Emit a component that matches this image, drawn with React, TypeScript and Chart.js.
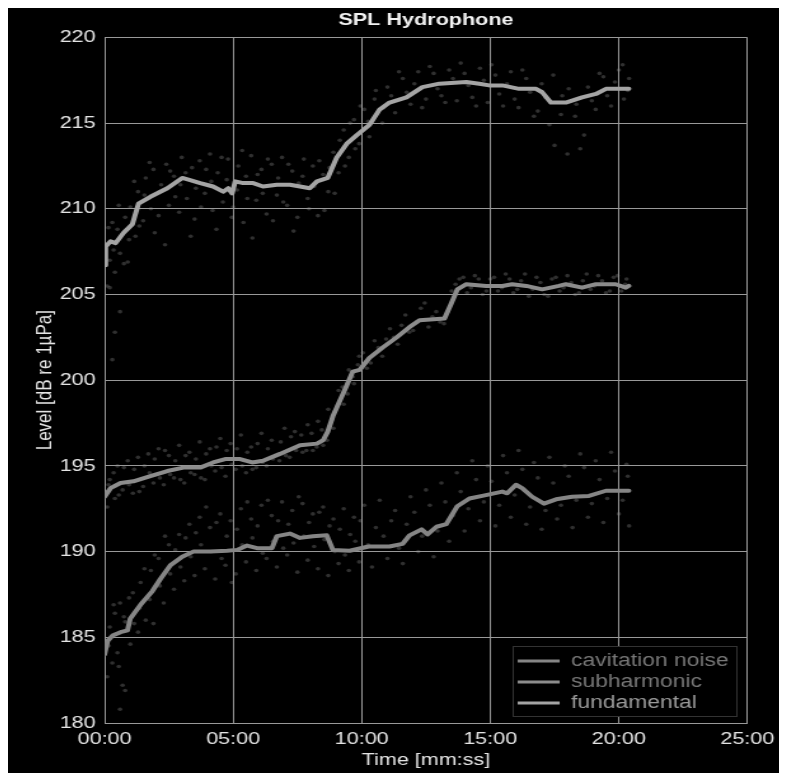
import React, { useEffect, useRef } from 'react';
import { Chart, registerables } from 'chart.js';

Chart.register(...registerables);

// Smoothed level traces (time in minutes, level in dB re 1µPa)
const fundamentalT = [0, 0.04, 0.23, 0.43, 0.74, 1.08, 1.32, 1.78, 2.44, 3.02, 3.26, 3.72, 4.22, 4.61, 4.81, 4.96, 5.08, 5.39, 5.78, 6.16, 6.7, 7.21, 7.6, 7.98, 8.26, 8.68, 9.03, 9.42, 9.81, 10.3, 10.7, 11.08, 11.74, 12.36, 13.02, 14.07, 14.57, 14.96, 15.47, 16.12, 16.78, 17.02, 17.36, 17.94, 18.57, 19.11, 19.5, 19.88, 20.39];
const fundamentalV = [206.7, 207.8, 208.1, 208.0, 208.6, 209.1, 210.3, 210.7, 211.2, 211.8, 211.7, 211.5, 211.3, 211.0, 211.2, 210.9, 211.6, 211.5, 211.5, 211.3, 211.4, 211.4, 211.3, 211.2, 211.6, 211.8, 213.0, 213.8, 214.3, 214.9, 215.8, 216.2, 216.5, 217.1, 217.3, 217.4, 217.3, 217.2, 217.2, 217.0, 217.0, 216.8, 216.2, 216.2, 216.5, 216.7, 217.0, 217.0, 217.0];

const subharmonicT = [0, 0.23, 0.62, 1.12, 1.78, 2.44, 3.06, 3.72, 4.22, 4.69, 5.27, 5.74, 6.16, 6.82, 7.6, 8.26, 8.5, 8.68, 8.88, 9.42, 9.65, 9.92, 10.3, 10.81, 11.36, 11.86, 12.25, 13.22, 13.49, 13.72, 14.07, 14.84, 15.47, 15.85, 16.4, 17.02, 17.67, 17.94, 18.57, 19.11, 19.88, 20.27, 20.39];
const subharmonicV = [193.2, 193.7, 194.0, 194.1, 194.4, 194.7, 194.9, 194.9, 195.2, 195.4, 195.4, 195.2, 195.3, 195.7, 196.2, 196.3, 196.5, 197.0, 197.9, 199.7, 200.5, 200.6, 201.3, 201.9, 202.5, 203.1, 203.5, 203.6, 204.5, 205.3, 205.6, 205.5, 205.5, 205.6, 205.5, 205.3, 205.5, 205.6, 205.4, 205.6, 205.6, 205.4, 205.5];

const cavitationT = [0, 0.12, 0.31, 0.62, 0.89, 1.0, 1.4, 1.86, 2.17, 2.56, 3.02, 3.45, 4.11, 4.77, 5.15, 5.54, 5.93, 6.51, 6.7, 7.21, 7.6, 8.1, 8.64, 8.88, 9.53, 10.27, 11.08, 11.59, 11.86, 12.33, 12.56, 12.91, 13.29, 13.72, 14.19, 14.69, 15.47, 15.66, 16.0, 16.24, 16.63, 17.09, 17.56, 18.18, 18.84, 19.5, 20.0, 20.39];
const cavitationV = [184.0, 184.8, 185.1, 185.3, 185.4, 186.1, 186.9, 187.7, 188.4, 189.2, 189.7, 190.0, 190.0, 190.05, 190.1, 190.35, 190.2, 190.2, 190.9, 191.05, 190.8, 190.9, 190.95, 190.1, 190.05, 190.3, 190.3, 190.45, 190.95, 191.3, 191.0, 191.45, 191.6, 192.65, 193.1, 193.25, 193.5, 193.4, 193.9, 193.7, 193.2, 192.8, 193.05, 193.2, 193.25, 193.55, 193.55, 193.55];

// Raw measurement samples [time, level]
const fundamentalDots = [
  [0.1, 205.5], [0.2, 207.0], [0.2, 205.4], [0.3, 209.2], [0.3, 201.2], [0.4, 206.3], [0.4, 202.8], [0.5, 208.8], [0.6, 207.4], [0.6, 204.0],
  [0.8, 209.5], [0.9, 206.9], [1.0, 210.1], [1.2, 208.4], [1.3, 211.0], [1.5, 209.3], [1.6, 211.8], [1.8, 210.0], [1.9, 212.3], [2.1, 209.6],
  [2.2, 211.4], [2.4, 212.6], [2.5, 210.2], [2.7, 211.9], [2.9, 209.8], [3.0, 213.0], [3.2, 210.6], [3.4, 212.4], [3.5, 209.4], [3.7, 212.8],
  [3.9, 210.9], [4.1, 213.2], [4.2, 209.9], [4.4, 212.1], [4.6, 210.4], [4.8, 212.9], [5.0, 210.1], [5.2, 212.5], [5.4, 209.2], [5.5, 211.9],
  [5.7, 213.1], [5.9, 210.5], [6.1, 212.3], [6.3, 209.7], [6.5, 212.6], [6.7, 210.8], [6.9, 213.0], [7.1, 210.2], [7.3, 212.2], [7.5, 209.5],
  [7.7, 211.9], [7.9, 210.6], [8.1, 212.5], [8.3, 209.6], [8.5, 212.0], [8.7, 211.0], [8.9, 213.3], [9.1, 212.1], [9.3, 214.6], [9.5, 213.0],
  [9.7, 215.2], [9.9, 213.8], [10.1, 215.8], [10.3, 214.2], [10.5, 216.4], [10.8, 215.0], [11.0, 217.1], [11.3, 215.6], [11.6, 217.6], [11.9, 216.1],
  [12.2, 218.0], [12.5, 216.4], [12.8, 217.9], [13.1, 216.6], [13.4, 218.1], [13.7, 216.3], [14.0, 217.9], [14.3, 216.5], [14.6, 218.2], [14.9, 216.2],
  [15.2, 217.8], [15.5, 216.0], [15.8, 218.0], [16.1, 215.9], [16.4, 217.6], [16.7, 215.4], [17.0, 217.3], [17.3, 214.9], [17.5, 213.7], [17.8, 216.6],
  [18.0, 213.2], [18.3, 215.4], [18.5, 213.5], [18.8, 217.1], [19.1, 215.8], [19.4, 217.7], [19.7, 216.0], [20.0, 218.1], [20.2, 216.4], [20.4, 217.6],
  [0.15, 208.9], [0.35, 207.6], [0.55, 210.2], [0.75, 206.8], [0.95, 208.2], [1.15, 211.6], [1.35, 209.0], [1.55, 210.8], [1.75, 212.7], [1.95, 208.6],
  [2.15, 211.0], [2.35, 207.9], [2.55, 212.2], [2.75, 210.7], [2.95, 211.4], [3.15, 212.1], [3.35, 208.4], [3.55, 211.2], [3.75, 210.1], [3.95, 212.3],
  [4.15, 211.6], [4.35, 208.8], [4.55, 213.0], [4.75, 211.7], [4.95, 209.5], [5.15, 211.1], [5.35, 213.4], [5.55, 210.6], [5.75, 208.3], [5.95, 212.0],
  [6.15, 210.9], [6.35, 212.9], [6.55, 209.3], [6.75, 211.8], [6.95, 210.4], [7.15, 212.6], [7.35, 208.7], [7.55, 211.5], [7.75, 212.9], [7.95, 210.0],
  [8.15, 211.3], [8.35, 212.8], [8.55, 209.9], [8.75, 212.4], [8.95, 210.9], [9.15, 214.0], [9.35, 212.5], [9.55, 215.0], [9.75, 213.5], [9.95, 216.0],
  [10.25, 215.1], [10.55, 216.9], [10.85, 215.9], [11.15, 216.6], [11.45, 218.0], [11.75, 216.8], [12.05, 217.3], [12.35, 215.9], [12.65, 218.3], [12.95, 217.0],
  [13.25, 216.2], [13.55, 217.6], [13.85, 218.5], [14.15, 217.2], [14.45, 216.0], [14.75, 217.5], [15.05, 218.4], [15.35, 216.7], [15.65, 217.3], [15.95, 216.4],
  [16.25, 218.1], [16.55, 216.8], [16.85, 215.7], [17.15, 216.5], [17.45, 217.8], [17.75, 215.5], [18.05, 217.0], [18.35, 216.1], [18.65, 214.3], [18.95, 216.3],
  [19.25, 217.9], [19.55, 216.6], [19.85, 217.4], [20.15, 218.4], [20.35, 216.9],
];

const subharmonicDots = [
  [0.1, 192.6], [0.2, 194.2], [0.4, 193.1], [0.5, 195.0], [0.7, 193.6], [0.9, 195.3], [1.1, 193.4], [1.3, 195.5], [1.5, 193.8], [1.7, 195.7],
  [1.9, 194.0], [2.1, 196.0], [2.3, 193.9], [2.5, 195.6], [2.7, 194.3], [2.9, 196.2], [3.1, 194.0], [3.3, 195.8], [3.5, 194.5], [3.7, 196.4],
  [3.9, 194.2], [4.1, 196.0], [4.3, 194.7], [4.5, 196.6], [4.7, 194.4], [4.9, 196.3], [5.1, 194.8], [5.3, 196.8], [5.5, 194.6], [5.7, 196.1],
  [5.9, 194.9], [6.1, 196.9], [6.3, 195.0], [6.5, 196.5], [6.8, 195.3], [7.0, 197.2], [7.2, 195.5], [7.4, 197.0], [7.7, 195.8], [7.9, 197.4],
  [8.1, 195.9], [8.3, 197.6], [8.5, 196.2], [8.7, 198.3], [8.9, 197.2], [9.1, 199.4], [9.3, 198.6], [9.5, 200.6], [9.7, 199.8], [9.9, 201.4],
  [10.2, 200.7], [10.5, 202.3], [10.8, 201.4], [11.1, 203.0], [11.4, 202.1], [11.7, 203.8], [12.0, 202.9], [12.3, 204.2], [12.6, 203.1], [12.9, 204.0],
  [13.2, 203.3], [13.5, 205.2], [13.8, 205.9], [14.1, 205.1], [14.4, 206.1], [14.7, 205.0], [15.0, 205.9], [15.3, 205.2], [15.6, 206.2], [15.9, 205.1],
  [16.2, 205.8], [16.5, 204.9], [16.8, 206.0], [17.1, 205.0], [17.4, 205.9], [17.7, 205.2], [18.0, 206.1], [18.3, 205.0], [18.6, 205.8], [18.9, 205.3],
  [19.2, 206.1], [19.5, 205.1], [19.8, 206.0], [20.1, 205.2], [20.3, 205.9],
  [0.15, 193.9], [0.35, 194.6], [0.55, 193.3], [0.75, 194.9], [0.95, 193.9], [1.15, 194.8], [1.35, 193.5], [1.55, 195.0], [1.75, 194.6], [1.95, 195.4],
  [2.15, 194.3], [2.35, 195.9], [2.55, 194.5], [2.75, 195.3], [2.95, 194.2], [3.15, 195.6], [3.35, 194.6], [3.55, 195.4], [3.75, 194.3], [3.95, 195.7],
  [4.15, 195.0], [4.35, 196.1], [4.55, 194.9], [4.75, 195.9], [4.95, 195.1], [5.15, 196.0], [5.35, 195.0], [5.55, 195.8], [5.75, 194.8], [5.95, 196.3],
  [6.15, 195.2], [6.35, 196.0], [6.55, 195.4], [6.85, 196.4], [7.05, 195.6], [7.25, 196.7], [7.45, 195.9], [7.65, 196.8], [7.85, 195.9], [8.05, 196.9],
  [8.25, 196.1], [8.45, 197.1], [8.65, 196.5], [8.85, 197.7], [9.05, 198.5], [9.25, 199.6], [9.45, 199.2], [9.65, 200.2], [9.85, 200.9], [10.05, 201.6],
  [10.35, 201.0], [10.65, 201.9], [10.95, 202.4], [11.25, 202.5], [11.55, 203.2], [11.85, 202.8], [12.15, 203.4], [12.45, 204.5], [12.75, 203.7], [13.05, 203.4],
  [13.35, 204.0], [13.65, 205.6], [13.95, 206.0], [14.25, 205.4], [14.55, 205.9], [14.85, 205.2], [15.15, 206.0], [15.45, 205.4], [15.75, 205.9], [16.05, 205.3],
  [16.35, 206.2], [16.65, 205.3], [16.95, 205.7], [17.25, 204.9], [17.55, 206.0], [17.85, 205.4], [18.15, 205.7], [18.45, 205.1], [18.75, 206.2], [19.05, 205.5],
  [19.35, 205.8], [19.65, 205.2], [19.95, 206.1], [20.25, 205.6],
];

const cavitationDots = [
  [0.1, 182.7], [0.2, 185.6], [0.3, 183.5], [0.4, 186.4], [0.5, 184.1], [0.6, 187.0], [0.6, 180.8], [0.7, 182.2], [0.8, 185.9], [0.8, 181.9],
  [1.0, 184.6], [1.1, 187.6], [1.3, 185.3], [1.4, 188.2], [1.6, 186.0], [1.8, 188.9], [1.9, 185.8], [2.1, 189.6], [2.3, 187.0], [2.5, 190.4],
  [2.7, 187.8], [2.9, 191.0], [3.1, 188.3], [3.3, 191.6], [3.5, 188.6], [3.7, 192.0], [3.9, 189.0], [4.1, 191.4], [4.3, 188.4], [4.5, 192.2],
  [4.7, 189.2], [4.9, 191.8], [5.1, 188.7], [5.3, 192.5], [5.5, 189.4], [5.7, 191.9], [5.9, 188.9], [6.1, 192.7], [6.3, 189.6], [6.5, 192.1],
  [6.7, 189.1], [6.9, 192.9], [7.1, 189.8], [7.3, 192.4], [7.5, 188.8], [7.7, 192.8], [7.9, 189.5], [8.1, 192.2], [8.3, 189.0], [8.5, 192.6],
  [8.7, 188.6], [8.9, 191.9], [9.1, 189.3], [9.3, 192.5], [9.5, 188.9], [9.7, 192.0], [9.9, 189.4], [10.1, 192.7], [10.4, 189.1], [10.7, 193.0],
  [11.0, 189.6], [11.3, 192.4], [11.6, 189.3], [11.9, 193.2], [12.2, 190.0], [12.5, 193.6], [12.8, 189.7], [13.1, 194.0], [13.4, 190.6], [13.7, 194.6],
  [14.0, 191.2], [14.3, 195.3], [14.6, 191.8], [14.9, 195.0], [15.2, 191.5], [15.5, 195.6], [15.8, 192.0], [16.1, 195.9], [16.4, 191.6], [16.7, 195.2],
  [17.0, 191.3], [17.3, 195.5], [17.6, 191.9], [17.9, 195.0], [18.2, 191.4], [18.5, 195.7], [18.8, 192.0], [19.1, 195.3], [19.4, 191.7], [19.7, 195.8],
  [20.0, 192.2], [20.3, 195.1], [20.4, 191.5],
  [0.15, 184.5], [0.35, 186.9], [0.55, 183.3], [0.75, 186.2], [0.95, 187.3], [1.15, 185.8], [1.35, 186.7], [1.55, 189.0], [1.75, 187.2], [1.95, 189.8],
  [2.15, 188.0], [2.35, 190.9], [2.55, 188.7], [2.75, 190.1], [2.95, 189.1], [3.15, 190.8], [3.35, 189.7], [3.55, 191.1], [3.75, 190.4], [3.95, 192.6],
  [4.15, 190.0], [4.35, 191.7], [4.55, 189.6], [4.75, 190.9], [4.95, 188.2], [5.15, 191.3], [5.35, 190.4], [5.55, 192.9], [5.75, 190.8], [5.95, 191.5],
  [6.15, 189.9], [6.35, 193.0], [6.55, 190.6], [6.75, 191.8], [6.95, 190.2], [7.15, 191.6], [7.35, 190.5], [7.55, 193.2], [7.75, 190.9], [7.95, 191.7],
  [8.15, 190.3], [8.35, 192.3], [8.55, 190.7], [8.75, 191.5], [8.95, 190.0], [9.15, 191.3], [9.35, 189.8], [9.55, 191.0], [9.75, 190.6], [9.95, 191.8],
  [10.25, 190.4], [10.55, 191.4], [10.85, 190.9], [11.15, 191.8], [11.45, 190.2], [11.75, 191.6], [12.05, 192.3], [12.35, 190.9], [12.65, 192.7], [12.95, 191.2],
  [13.25, 192.9], [13.55, 192.1], [13.85, 193.5], [14.15, 192.5], [14.45, 194.2], [14.75, 192.9], [15.05, 194.1], [15.35, 192.7], [15.65, 194.6], [15.95, 193.3],
  [16.25, 194.8], [16.55, 192.6], [16.85, 194.3], [17.15, 192.4], [17.45, 194.0], [17.75, 192.7], [18.05, 194.4], [18.35, 193.0], [18.65, 194.9], [18.95, 192.8],
  [19.25, 194.2], [19.55, 193.1], [19.85, 194.7], [20.15, 193.0], [20.35, 194.4],
];

const xTicks = [0, 5, 10, 15, 20, 25];
const yTicks = [180, 185, 190, 195, 200, 205, 210, 215, 220];

const FONT = '"Liberation Sans", Arial, Helvetica, sans-serif';
const PANEL_W = 774;
const PANEL_H = 768;
const STRETCH = 1.27;
const CANVAS_W = Math.round(PANEL_W / STRETCH);

const toPoints = (t: number[], v: number[]) => t.map((x, i) => ({ x, y: v[i] }));
const pairsToPoints = (p: number[][]) => p.map(([x, y]) => ({ x, y }));
const mmss = (m: number) => `${String(Math.floor(m)).padStart(2, '0')}:00`;

// Legend drawn inside the lower-right corner of the plot, on a black box
const boxLegend = {
  id: 'boxLegend',
  afterDraw(chart: any) {
    const { ctx, chartArea } = chart;
    const items = chart.data.datasets.filter((d: any) => d.legendText);
    const boxW = 176;
    const boxH = 70;
    const right = chartArea.right - 8.7;
    const bottom = chartArea.bottom - 7;
    const left = right - boxW;
    const top = bottom - boxH;
    ctx.save();
    ctx.fillStyle = '#000';
    ctx.fillRect(left, top, boxW, boxH);
    ctx.strokeStyle = '#333';
    ctx.lineWidth = 1;
    ctx.strokeRect(left + 0.5, top + 0.5, boxW, boxH);
    ctx.font = `18px ${FONT}`;
    ctx.textBaseline = 'middle';
    ctx.textAlign = 'left';
    items.forEach((d: any, i: number) => {
      const y = top + 15 + i * 21;
      ctx.strokeStyle = d.borderColor;
      ctx.lineWidth = 3;
      ctx.beginPath();
      ctx.moveTo(left + 4, y);
      ctx.lineTo(left + 37, y);
      ctx.stroke();
      ctx.fillStyle = d.legendText;
      ctx.fillText(d.label, left + 46, y);
    });
    ctx.restore();
  },
};

export default function App() {
  const canvasRef = useRef<HTMLCanvasElement | null>(null);

  useEffect(() => {
    if (!canvasRef.current) return;
    const lineBase = { showLine: true, pointRadius: 0, borderWidth: 4, tension: 0, borderJoinStyle: 'round', borderCapStyle: 'round' };
    const dotBase = { showLine: false, pointRadius: 1.8, pointBorderWidth: 0, backgroundColor: 'rgba(150,150,150,0.32)', borderColor: 'rgba(0,0,0,0)' };

    const chart = new Chart(canvasRef.current, {
      type: 'scatter',
      data: {
        datasets: [
          { ...lineBase, label: 'cavitation noise', data: toPoints(cavitationT, cavitationV), borderColor: '#858585', legendText: '#777777' },
          { ...lineBase, label: 'subharmonic', data: toPoints(subharmonicT, subharmonicV), borderColor: '#8c8c8c', legendText: '#777777' },
          { ...lineBase, label: 'fundamental', data: toPoints(fundamentalT, fundamentalV), borderColor: '#a4a4a4', legendText: '#9a9a9a' },
          { ...dotBase, label: 'cavitation samples', data: pairsToPoints(cavitationDots) },
          { ...dotBase, label: 'subharmonic samples', data: pairsToPoints(subharmonicDots) },
          { ...dotBase, label: 'fundamental samples', data: pairsToPoints(fundamentalDots) },
        ] as any,
      },
      options: {
        responsive: false,
        animation: false,
        devicePixelRatio: 1,
        layout: { padding: { left: 0, right: 25.5, top: 0, bottom: 0 } },
        plugins: {
          legend: { display: false },
          tooltip: { enabled: false },
          title: {
            display: true,
            text: 'SPL Hydrophone',
            fullSize: false,
            color: '#f2f2f2',
            font: { family: FONT, size: 17, weight: 'bold' },
            padding: { top: 5, bottom: 7 },
          },
        },
        scales: {
          x: {
            type: 'linear',
            min: xTicks[0],
            max: xTicks[xTicks.length - 1],
            afterBuildTicks: (s: any) => { s.ticks = xTicks.map((v) => ({ value: v })); },
            afterFit: (s: any) => { s.height = 50; },
            ticks: { callback: (v: any) => mmss(Number(v)), color: '#e4e4e4', font: { family: FONT, size: 17 }, padding: 6, maxRotation: 0 },
            grid: { color: '#999', lineWidth: 1, drawTicks: false },
            border: { color: '#999' },
            title: { display: true, text: 'Time [mm:ss]', color: '#e4e4e4', font: { family: FONT, size: 17 }, padding: { top: 0, bottom: 2 } },
          },
          y: {
            type: 'linear',
            min: yTicks[0],
            max: yTicks[yTicks.length - 1],
            afterBuildTicks: (s: any) => { s.ticks = yTicks.map((v) => ({ value: v })); },
            afterFit: (s: any) => { s.width = 76; },
            ticks: { color: '#e4e4e4', font: { family: FONT, size: 17 }, padding: 7 },
            grid: { color: '#999', lineWidth: 1, drawTicks: false },
            border: { color: '#999' },
            title: { display: true, text: 'Level [dB re 1µPa]', color: '#e4e4e4', font: { family: FONT, size: 17 }, padding: { top: 19, bottom: 0 } },
          },
        },
      } as any,
      plugins: [boxLegend],
    });
    return () => chart.destroy();
  }, []);

  return (
    <div style={{ width: PANEL_W, height: PANEL_H, background: '#000', marginTop: -3, overflow: 'hidden' }}>
      <div style={{ width: CANVAS_W, height: PANEL_H, transform: `scaleX(${PANEL_W / CANVAS_W})`, transformOrigin: '0 0' }}>
        <canvas ref={canvasRef} width={CANVAS_W} height={PANEL_H} />
      </div>
    </div>
  );
}
